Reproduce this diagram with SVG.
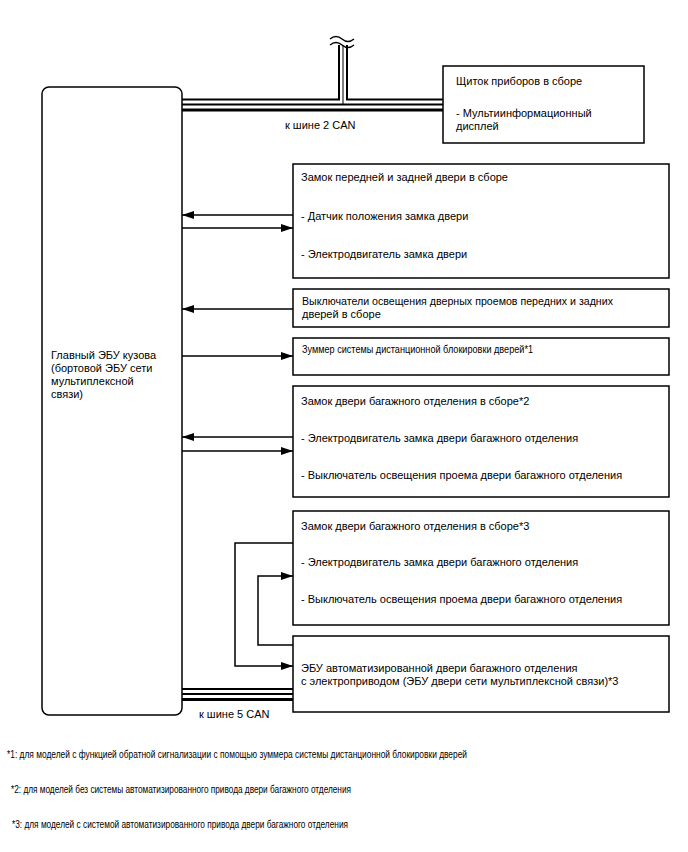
<svg xmlns="http://www.w3.org/2000/svg" width="688" height="852" viewBox="0 0 688 852">
<style>
text{font-family:"Liberation Sans",Arial,sans-serif;font-size:11px;fill:#000}
.box{fill:#fff;stroke:#000;stroke-width:1.5}
.ln{fill:none;stroke:#000;stroke-width:1.5}
.bus{fill:none;stroke:#000}
.fn{font-size:10.5px}
</style>
<defs>
<marker id="ah" viewBox="0 0 12 8" refX="12" refY="4" markerWidth="12" markerHeight="8" markerUnits="userSpaceOnUse" orient="auto">
<path d="M0,0 L12,4 L0,8 Z" fill="#000"/>
</marker>
</defs>
<rect width="688" height="852" fill="#fff"/>

<g id="connectors">
<!-- CAN 2 bus -->
<path class="bus" stroke-width="2" d="M182,99.5 H339 V45"/>
<path class="bus" stroke-width="2" d="M443,99.5 H347 V45"/>
<path class="bus" stroke-width="1" d="M343,45 V104.5"/>
<path class="bus" stroke-width="2" d="M182,104.5 H443"/>
<path class="bus" stroke-width="3" d="M182,110 H443"/>
<path class="bus" stroke-width="1.5" d="M330,39 q6,-5 12,0 t12,0 M330,45 q6,-5 12,0 t12,0"/>
<!-- CAN 5 bus -->
<path class="bus" stroke-width="2" d="M182,689 H293"/>
<path class="bus" stroke-width="2" d="M182,694 H293"/>
<path class="bus" stroke-width="3" d="M182,699.5 H293"/>
<!-- door lock -->
<path class="ln" d="M293,215 H182" marker-end="url(#ah)"/>
<path class="ln" d="M182,228 H293" marker-end="url(#ah)"/>
<!-- courtesy switches -->
<path class="ln" d="M293,309 H182" marker-end="url(#ah)"/>
<!-- buzzer -->
<path class="ln" d="M182,356 H293" marker-end="url(#ah)"/>
<!-- back door lock *2 -->
<path class="ln" d="M293,437 H182" marker-end="url(#ah)"/>
<path class="ln" d="M182,451 H293" marker-end="url(#ah)"/>
<!-- back door lock *3 <-> PBD ECU -->
<path class="ln" d="M293,543 H235 V666 H293" marker-end="url(#ah)"/>
<path class="ln" d="M293,645 H258 V576 H293" marker-end="url(#ah)"/>
</g>

<g id="main-ecu">
<rect class="box" x="42" y="87" width="140" height="628" rx="7"/>
<text x="51" y="359">Главный ЭБУ кузова</text>
<text x="51" y="372">(бортовой ЭБУ сети</text>
<text x="51" y="385">мультиплексной</text>
<text x="51" y="398">связи)</text>
</g>

<g id="can2-label"><text x="285" y="129">к шине 2 CAN</text></g>
<g id="can5-label"><text x="199" y="718">к шине 5 CAN</text></g>

<g id="meter">
<rect class="box" x="443" y="66" width="201" height="77"/>
<text x="456" y="85">Щиток приборов в сборе</text>
<text x="456" y="117">- Мультиинформационный</text>
<text x="456" y="130">дисплей</text>
</g>

<g id="door-lock">
<rect class="box" x="293" y="164" width="376" height="114"/>
<text x="301" y="181">Замок передней и задней двери в сборе</text>
<text x="301" y="220">- Датчик положения замка двери</text>
<text x="301" y="258">- Электродвигатель замка двери</text>
</g>

<g id="courtesy-switch">
<rect class="box" x="293" y="289" width="376" height="38"/>
<text x="302" y="305" textLength="311" lengthAdjust="spacingAndGlyphs">Выключатели освещения дверных проемов передних и задних</text>
<text x="302" y="318">дверей в сборе</text>
</g>

<g id="buzzer">
<rect class="box" x="293" y="338" width="376" height="37"/>
<text x="302" y="353" font-size="10" textLength="231" lengthAdjust="spacingAndGlyphs">Зуммер системы дистанционной блокировки дверей*1</text>
</g>

<g id="back-door-lock-2">
<rect class="box" x="293" y="386" width="376" height="111"/>
<text x="301" y="405">Замок двери багажного отделения в сборе*2</text>
<text x="301" y="442">- Электродвигатель замка двери багажного отделения</text>
<text x="301" y="479">- Выключатель освещения проема двери багажного отделения</text>
</g>

<g id="back-door-lock-3">
<rect class="box" x="293" y="511" width="376" height="114"/>
<text x="301" y="530">Замок двери багажного отделения в сборе*3</text>
<text x="301" y="566">- Электродвигатель замка двери багажного отделения</text>
<text x="301" y="603">- Выключатель освещения проема двери багажного отделения</text>
</g>

<g id="pbd-ecu">
<rect class="box" x="293" y="636" width="376" height="76"/>
<text x="301" y="672">ЭБУ автоматизированной двери багажного отделения</text>
<text x="301" y="685">с электроприводом (ЭБУ двери сети мультиплексной связи)*3</text>
</g>

<g id="footnotes">
<text class="fn" x="7" y="758" textLength="460" lengthAdjust="spacingAndGlyphs">*1: для моделей с функцией обратной сигнализации с помощью зуммера системы дистанционной блокировки дверей</text>
<text class="fn" x="11" y="793" textLength="340" lengthAdjust="spacingAndGlyphs">*2: для моделей без системы автоматизированного привода двери багажного отделения</text>
<text class="fn" x="12" y="828" textLength="336" lengthAdjust="spacingAndGlyphs">*3: для моделей с системой автоматизированного привода двери багажного отделения</text>
</g>
</svg>
